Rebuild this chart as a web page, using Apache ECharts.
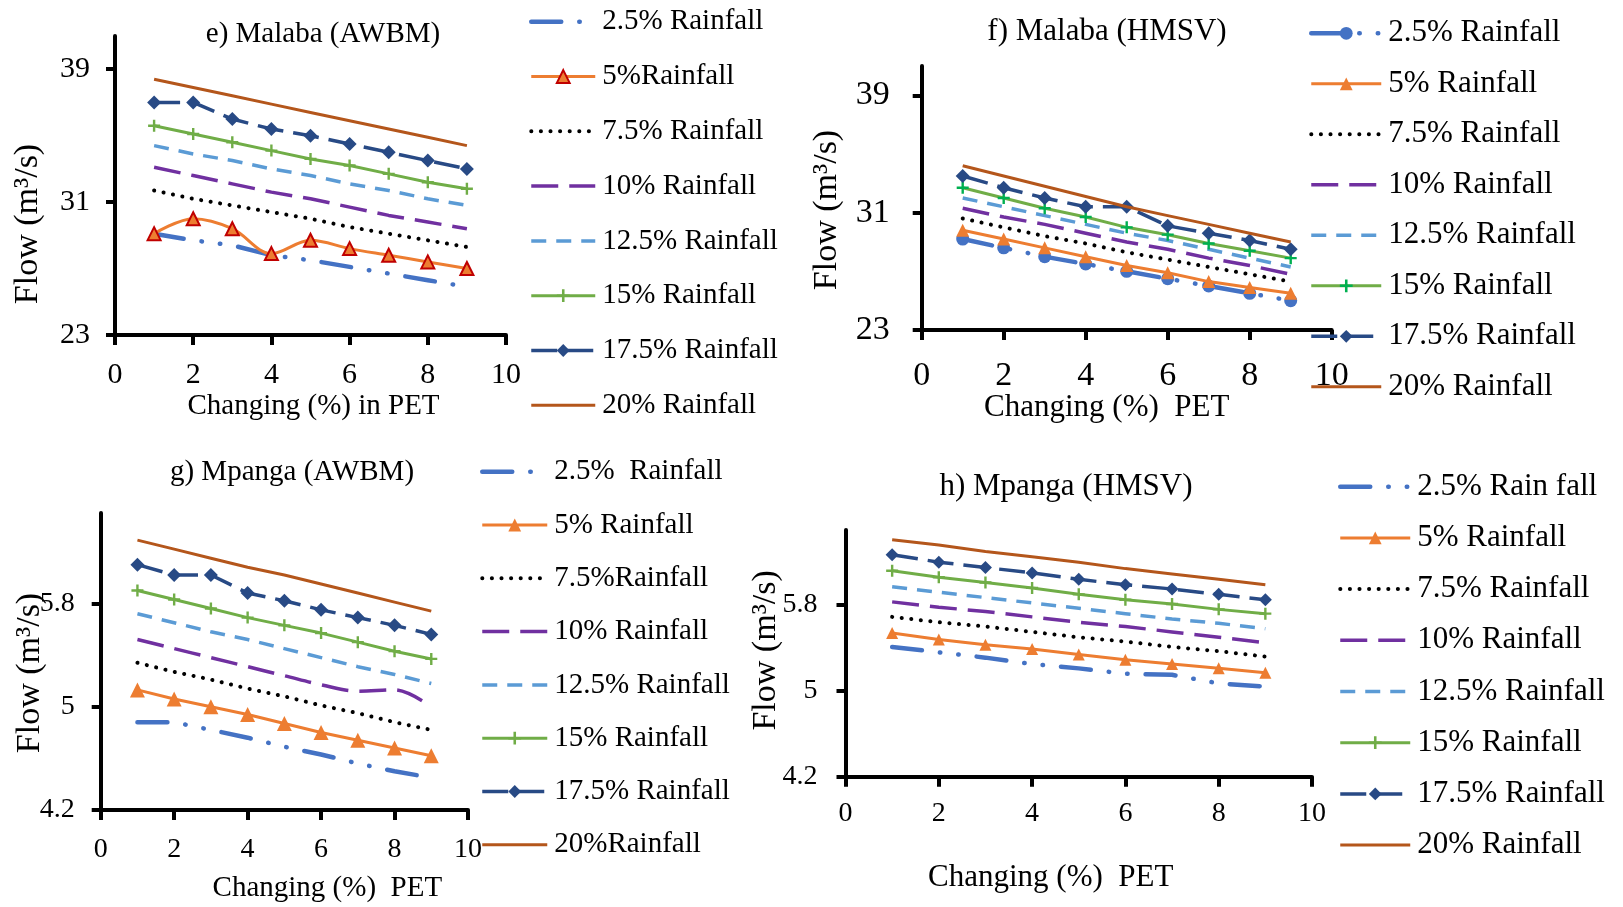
<!DOCTYPE html>
<html><head><meta charset="utf-8">
<script src="https://cdn.jsdelivr.net/npm/echarts@6/dist/echarts.min.js"></script>
<style>html,body{margin:0;padding:0;background:#fff}#c{width:1623px;height:907px}</style>
</head><body><div id="c"></div>
<script>
// ---------- data ----------
const pet = [1, 2, 3, 4, 5, 6, 7, 8, 9];
const xTicks = [0, 2, 4, 6, 8, 10];
const yTicksMalaba = [23, 31, 39];
const yTicksMpanga = [4.2, 5, 5.8];

const titles = ['e) Malaba (AWBM)', 'f) Malaba (HMSV)', 'g) Mpanga (AWBM)', 'h) Mpanga (HMSV)'];
const yName = 'Flow (m³/s)';
const xNames = ['Changing (%) in PET', 'Changing (%)  PET', 'Changing (%)  PET', 'Changing (%)  PET'];

const legendE = ['2.5% Rainfall', '5%Rainfall', '7.5% Rainfall', '10% Rainfall', '12.5% Rainfall', '15% Rainfall', '17.5% Rainfall', '20% Rainfall'];
const legendF = ['2.5% Rainfall', '5% Rainfall', '7.5% Rainfall', '10% Rainfall', '12.5% Rainfall', '15% Rainfall', '17.5% Rainfall', '20% Rainfall'];
const legendG = ['2.5%  Rainfall', '5% Rainfall', '7.5%Rainfall', '10% Rainfall', '12.5% Rainfall', '15% Rainfall', '17.5% Rainfall', '20%Rainfall'];
const legendH = ['2.5% Rain fall', '5% Rainfall', '7.5% Rainfall', '10% Rainfall', '12.5% Rainfall', '15% Rainfall', '17.5% Rainfall', '20% Rainfall'];

// e) Malaba (AWBM)
const eR25  = [29.1, 28.7, 28.4, 27.8, 27.5, 27.1, 26.7, 26.3, 25.9];
const eR5   = [29.1, 30.0, 29.4, 27.9, 28.7, 28.2, 27.8, 27.4, 27.0];
const eR75  = [31.7, 31.2, 30.8, 30.4, 30.0, 29.5, 29.1, 28.7, 28.3];
const eR10  = [33.1, 32.6, 32.1, 31.6, 31.2, 30.7, 30.2, 29.8, 29.4];
const eR125 = [34.4, 33.9, 33.5, 33.0, 32.6, 32.1, 31.7, 31.2, 30.8];
const eR15  = [35.6, 35.1, 34.6, 34.1, 33.6, 33.2, 32.7, 32.2, 31.8];
const eR175 = [37.0, 37.0, 36.0, 35.4, 35.0, 34.5, 34.0, 33.5, 33.0];
const eR20  = [38.4, 37.9, 37.4, 36.9, 36.4, 35.9, 35.4, 34.9, 34.4];

// f) Malaba (HMSV)
const fR25  = [29.2, 28.6, 28.0, 27.5, 27.0, 26.5, 26.0, 25.5, 25.0];
const fR5   = [29.8, 29.2, 28.6, 28.0, 27.4, 26.9, 26.3, 25.9, 25.5];
const fR75  = [30.6, 30.0, 29.4, 28.9, 28.3, 27.8, 27.3, 26.8, 26.3];
const fR10  = [31.3, 30.7, 30.2, 29.6, 29.0, 28.5, 27.9, 27.4, 26.8];
const fR125 = [32.0, 31.4, 30.8, 30.2, 29.6, 29.1, 28.5, 27.9, 27.3];
const fR15  = [32.7, 32.0, 31.3, 30.7, 30.0, 29.5, 28.9, 28.4, 27.9];
const fR175 = [33.5, 32.7, 32.0, 31.4, 31.4, 30.1, 29.6, 29.1, 28.5];
const fR20  = [34.2, 33.5, 32.8, 32.1, 31.4, 30.8, 30.2, 29.6, 29.0];

// g) Mpanga (AWBM)
const gR25  = [4.88, 4.88, 4.82, 4.76, 4.69, 4.63, 4.56, 4.50, 4.45];
const gR5   = [5.13, 5.06, 5.00, 4.94, 4.87, 4.80, 4.74, 4.68, 4.62];
const gR75  = [5.34, 5.27, 5.21, 5.14, 5.08, 5.01, 4.95, 4.88, 4.82];
const gR10  = [5.52, 5.45, 5.38, 5.31, 5.24, 5.17, 5.12, 5.13, 5.00];
const gR125 = [5.72, 5.65, 5.58, 5.52, 5.45, 5.38, 5.31, 5.25, 5.18];
const gR15  = [5.90, 5.83, 5.76, 5.69, 5.63, 5.57, 5.50, 5.43, 5.37];
const gR175 = [6.10, 6.02, 6.02, 5.88, 5.82, 5.75, 5.69, 5.63, 5.56];
const gR20  = [6.29, 6.22, 6.15, 6.08, 6.02, 5.95, 5.88, 5.81, 5.74];

// h) Mpanga (HMSV)
const hR25  = [5.41, 5.36, 5.31, 5.25, 5.21, 5.16, 5.15, 5.07, 5.04];
const hR5   = [5.54, 5.48, 5.43, 5.39, 5.34, 5.29, 5.25, 5.21, 5.17];
const hR75  = [5.69, 5.64, 5.60, 5.55, 5.50, 5.46, 5.41, 5.37, 5.32];
const hR10  = [5.83, 5.78, 5.74, 5.69, 5.64, 5.60, 5.55, 5.50, 5.45];
const hR125 = [5.97, 5.92, 5.87, 5.82, 5.77, 5.72, 5.67, 5.63, 5.58];
const hR15  = [6.12, 6.06, 6.01, 5.96, 5.90, 5.85, 5.81, 5.76, 5.72];
const hR175 = [6.27, 6.20, 6.15, 6.10, 6.04, 5.99, 5.95, 5.90, 5.85];
const hR20  = [6.41, 6.36, 6.30, 6.25, 6.20, 6.14, 6.09, 6.04, 5.99];

// ---------- styles / layout ----------
const FONT = 'Liberation Serif';
const PLUS = 'path://M4,0 H6 V4 H10 V6 H6 V10 H4 V6 H0 V4 H4 Z';
const baseStyles = [
  {color: '#4472C4', width: 4.5, type: [30, 18, 0.5, 18, 0.5, 18], cap: 'round', symbol: 'none'},
  {color: '#ED7D31', width: 3, type: 'solid', cap: 'butt', symbol: 'triangle', size: 13},
  {color: '#000000', width: 4, type: [0.1, 9.5], cap: 'round', symbol: 'none'},
  {color: '#7030A0', width: 3.5, type: [27, 11], cap: 'butt', symbol: 'none'},
  {color: '#5B9BD5', width: 3.5, type: [15, 10], cap: 'butt', symbol: 'none'},
  {color: '#70AD47', width: 3, type: 'solid', cap: 'butt', symbol: PLUS, size: 12},
  {color: '#284A85', width: 3.5, type: [26, 10], cap: 'butt', symbol: 'diamond', size: 14},
  {color: '#B4561B', width: 3, type: 'solid', cap: 'butt', symbol: 'none'}
];

const panels = [
  {key: 'e', data: [eR25, eR5, eR75, eR10, eR125, eR15, eR175, eR20], legend: legendE,
   grid: {left: 115, top: 36, width: 391, height: 299}, yMin: 23, yMax: 41, yTicks: yTicksMalaba,
   tickFont: 30, yLM: 25, xLM: 25, yNameGap: 70, yNamePad: [0, 77, 0, 0], xNameGap: 57, xNamePad: [0, 0, 0, 6],
   nameFont: 34, xNameFont: 29, title: {x: 323, y: 34, fs: 29},
   lg: {left: 529, top: 6.7, gap: 24.8, w: 64, fs: 29, lh: 30},
   override: {1: {border: '#C00000'}}, smooth: {1: 0.35}},
  {key: 'f', data: [fR25, fR5, fR75, fR10, fR125, fR15, fR175, fR20], legend: legendF,
   grid: {left: 921.7, top: 66, width: 410, height: 264}, yMin: 23, yMax: 41, yTicks: yTicksMalaba,
   tickFont: 34, yLM: 32, xLM: 29, yNameGap: 78, yNamePad: [0, 24, 0, 0], xNameGap: 62, xNamePad: [0, 40, 0, 0],
   nameFont: 34, xNameFont: 31, title: {x: 1107, y: 32, fs: 31},
   lg: {left: 1309, top: 17.3, gap: 18.5, w: 70, fs: 31, lh: 32},
   override: {0: {symbol: 'circle', size: 13}, 5: {markColor: '#00B050'}}, smooth: {}},
  {key: 'g', data: [gR25, gR5, gR75, gR10, gR125, gR15, gR175, gR20], legend: legendG,
   grid: {left: 100.7, top: 513, width: 367.3, height: 297}, yMin: 4.2, yMax: 6.5, yTicks: yTicksMpanga,
   tickFont: 28, yLM: 26, xLM: 26, yNameGap: 54, yNamePad: [0, 23, 0, 0], xNameGap: 64, xNamePad: [0, 0, 0, 86],
   nameFont: 34, xNameFont: 29, title: {x: 292, y: 472, fs: 29},
   lg: {left: 480, top: 456.7, gap: 23.3, w: 65, fs: 29, lh: 30},
   override: {1: {size: 15}}, smooth: {3: 0.35}},
  {key: 'h', data: [hR25, hR5, hR75, hR10, hR125, hR15, hR175, hR20], legend: legendH,
   grid: {left: 845.5, top: 530, width: 466.5, height: 246.7}, yMin: 4.2, yMax: 6.5, yTicks: yTicksMpanga,
   tickFont: 28, yLM: 28, xLM: 23, yNameGap: 62, yNamePad: [0, 0, 0, 6], xNameGap: 86, xNamePad: [0, 56, 0, 0],
   nameFont: 34, xNameFont: 31, title: {x: 1066, y: 486.5, fs: 31},
   lg: {left: 1338, top: 470.7, gap: 19.2, w: 70, fs: 31, lh: 32},
   override: {1: {size: 12}, 6: {size: 13}}, smooth: {}}
];

const option = {
  animation: false,
  backgroundColor: '#ffffff',
  title: [], grid: [], xAxis: [], yAxis: [], legend: [], series: []
};

panels.forEach((p, i) => {
  option.title.push({
    text: titles[i], left: p.title.x, top: p.title.y - (p.title.fs + 2) / 2, textAlign: 'center', padding: 0,
    textStyle: {fontFamily: FONT, fontSize: p.title.fs, fontWeight: 'normal', color: '#000', lineHeight: p.title.fs + 2}
  });
  option.grid.push(Object.assign({containLabel: false}, p.grid));
  option.xAxis.push({
    type: 'value', gridIndex: i, min: 0, max: 10, interval: 2,
    name: xNames[i], nameLocation: 'middle', nameGap: p.xNameGap, nameMoveOverlap: false,
    nameTextStyle: {fontFamily: FONT, fontSize: p.xNameFont, color: '#000', padding: p.xNamePad},
    axisLine: {show: true, onZero: false, lineStyle: {color: '#000', width: 4}},
    axisTick: {show: true, inside: false, length: 10, lineStyle: {color: '#000', width: 4}},
    axisLabel: {fontFamily: FONT, fontSize: p.tickFont, color: '#000', margin: p.xLM, customValues: xTicks},
    splitLine: {show: false}
  });
  option.yAxis.push({
    type: 'value', gridIndex: i, min: p.yMin, max: p.yMax,
    name: yName, nameLocation: 'middle', nameGap: p.yNameGap, nameMoveOverlap: false,
    nameTextStyle: {fontFamily: FONT, fontSize: p.nameFont, color: '#000', padding: p.yNamePad},
    axisLine: {show: true, onZero: false, lineStyle: {color: '#000', width: 4}},
    axisTick: {show: true, inside: false, length: 9, lineStyle: {color: '#000', width: 4}, customValues: p.yTicks},
    axisLabel: {fontFamily: FONT, fontSize: p.tickFont, color: '#000', margin: p.yLM, customValues: p.yTicks,
      formatter: v => (p.yTicks.some(t => Math.abs(t - v) < 1e-6) ? String(+v.toFixed(1)) : '')},
    splitLine: {show: false}
  });
  const legendData = [];
  p.data.forEach((vals, k) => {
    const st = Object.assign({}, baseStyles[k], p.override[k] || {});
    const sname = p.key + '|' + p.legend[k];
    const hasSym = st.symbol !== 'none';
    legendData.push(hasSym ? {name: sname} : {name: sname, itemStyle: {opacity: 0}});
    option.series.push({
      type: 'line', name: sname, xAxisIndex: i, yAxisIndex: i,
      data: pet.map((x, j) => [x, vals[j]]),
      smooth: p.smooth[k] || false,
      symbol: st.symbol, symbolSize: st.size || 0, showSymbol: hasSym,
      lineStyle: {color: st.color, width: st.width, type: st.type, cap: st.cap, join: 'round'},
      itemStyle: {color: st.markColor || st.color, borderColor: st.border || st.markColor || st.color, borderWidth: st.border ? 2 : 0, opacity: 1},
      emphasis: {disabled: true}, z: 2 + k
    });
  });
  option.legend.push({
    orient: 'vertical', left: p.lg.left, top: p.lg.top, padding: 0, itemGap: p.lg.gap,
    itemWidth: p.lg.w, itemHeight: 16, selectedMode: false,
    data: legendData,
    formatter: n => n.slice(2),
    lineStyle: {width: 'inherit'},
    textStyle: {fontFamily: FONT, fontSize: p.lg.fs, color: '#000', lineHeight: p.lg.lh, padding: [0, 0, 0, 2]}
  });
});

const chart = echarts.init(document.getElementById('c'), null, {renderer: 'canvas'});
chart.setOption(option);
</script>
</body></html>
